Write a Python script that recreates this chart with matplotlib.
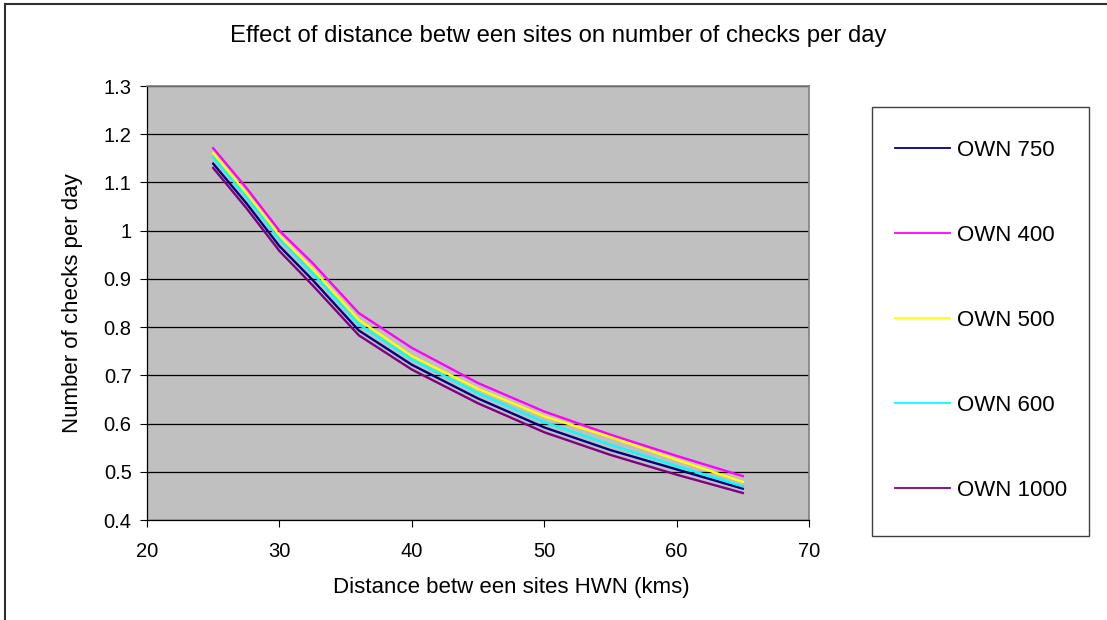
import matplotlib
matplotlib.use("Agg")
import matplotlib.pyplot as plt
from matplotlib.lines import Line2D
from matplotlib.patches import Rectangle

plt.rcParams['font.family'] = ['Liberation Sans', 'DejaVu Sans']

# Data
distance = [25, 27.5, 30, 32.5, 36, 40, 45, 50, 55, 60, 65]
own_750 = [1.139, 1.057, 0.968, 0.898, 0.793, 0.722, 0.652, 0.592, 0.545, 0.505, 0.465]
own_400 = [1.171, 1.089, 1.000, 0.933, 0.829, 0.757, 0.684, 0.625, 0.577, 0.533, 0.491]
own_500 = [1.161, 1.078, 0.990, 0.921, 0.815, 0.740, 0.672, 0.615, 0.572, 0.525, 0.479]
own_600 = [1.152, 1.070, 0.982, 0.912, 0.806, 0.733, 0.663, 0.603, 0.556, 0.512, 0.470]
own_1000 = [1.130, 1.047, 0.958, 0.887, 0.783, 0.712, 0.642, 0.582, 0.535, 0.494, 0.456]

series_labels = ["OWN 750", "OWN 400", "OWN 500", "OWN 600", "OWN 1000"]
series_values = [own_750, own_400, own_500, own_600, own_1000]
series_colors = ["#000080", "#FF00FF", "#FFFF00", "#00FFFF", "#800080"]

x_ticks = [20, 30, 40, 50, 60, 70]
y_ticks = [0.4, 0.5, 0.6, 0.7, 0.8, 0.9, 1.0, 1.1, 1.2, 1.3]
y_ticklabels = ["0.4", "0.5", "0.6", "0.7", "0.8", "0.9", "1", "1.1", "1.2", "1.3"]

W, H = 1107, 620
fig = plt.figure(figsize=(W / 100, H / 100), dpi=100)
fig.patch.set_facecolor("white")

ax = fig.add_axes([147 / W, 1 - 520 / H, (809 - 147) / W, (520 - 86) / H])
ax.set_facecolor("#C0C0C0")

for vals, col, lab in zip(series_values, series_colors, series_labels):
    ax.plot(distance, vals, color=col, lw=1.7, label=lab, solid_joinstyle="miter")

ax.set_xlim(20, 70)
ax.set_ylim(0.4, 1.3)
ax.set_xticks(x_ticks)
ax.set_xticklabels([str(t) for t in x_ticks])
ax.set_yticks(y_ticks)
ax.set_yticklabels(y_ticklabels)
ax.tick_params(axis="both", direction="out", length=5, width=0.8, color="black",
               labelsize=14.5)
ax.tick_params(axis="y", pad=6)
ax.tick_params(axis="x", pad=11)

ax.grid(axis="y", color="black", lw=0.9)
ax.set_axisbelow(True)
for s in ["top", "right"]:
    ax.spines[s].set_color("#808080")
    ax.spines[s].set_linewidth(1.2)
for s in ["left", "bottom"]:
    ax.spines[s].set_color("black")
    ax.spines[s].set_linewidth(0.9)

ax.set_ylabel("Number of checks per day", fontsize=16, labelpad=15)
fig.text(511 / W, 1 - 587 / H, "Distance betw een sites HWN (kms)",
         ha="center", va="center", fontsize=16)

fig.text(558 / W, 1 - 42 / H, "Effect of distance betw een sites on number of checks per day",
         ha="center", va="baseline", fontsize=17.2)

# Legend frame
fig.add_artist(Rectangle((872 / W, 1 - 536 / H), (1089 - 872) / W, (536 - 107) / H,
                         transform=fig.transFigure, facecolor="white",
                         edgecolor="#404040", lw=1.0))
handles = [Line2D([0], [0], color=c, lw=1.3) for c in series_colors]
fig.legend(handles, series_labels, loc="upper left",
           bbox_to_anchor=(895 / W, 1 - 140 / H), frameon=False,
           fontsize=16, handlelength=2.48, handletextpad=0.32,
           labelspacing=2.88, borderpad=0, borderaxespad=0)

# Figure border (top and left visible)
fig.add_artist(Line2D([5 / W, 5 / W], [0, 1 - 4 / H], transform=fig.transFigure,
                      color="#303030", lw=1.5))
fig.add_artist(Line2D([5 / W, 1], [1 - 4 / H, 1 - 4 / H], transform=fig.transFigure,
                      color="#303030", lw=1.5))

fig.savefig("out.png", dpi=100)
